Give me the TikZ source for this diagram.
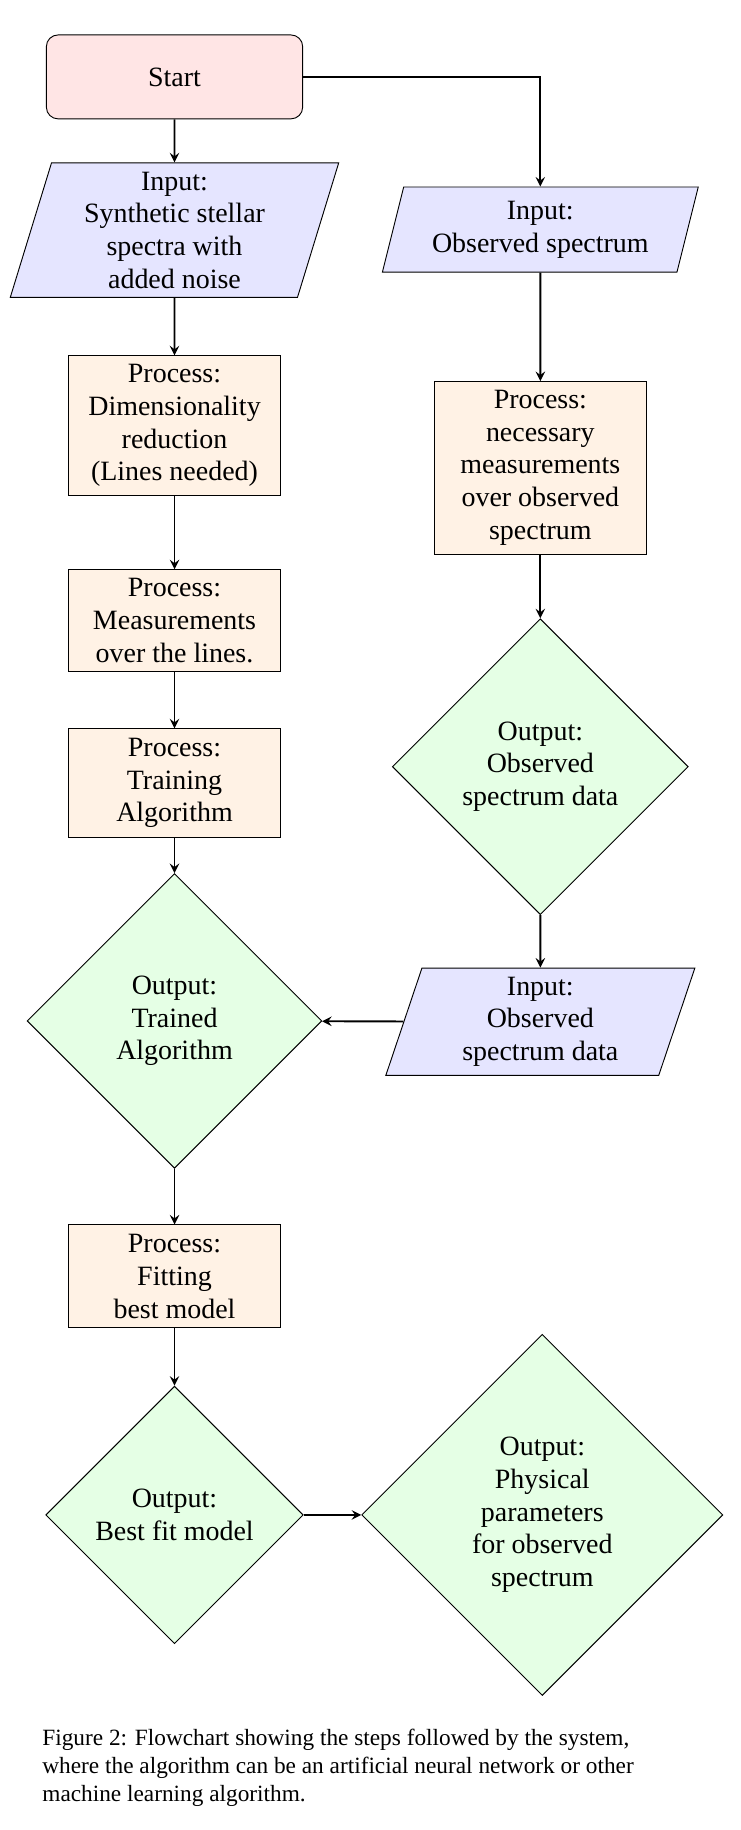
\documentclass[tikz,border=0pt]{standalone}
\usepackage{fontspec}
\setmainfont{Liberation Serif}
\usetikzlibrary{arrows,positioning,shapes.geometric}

\begin{document}
\begin{tikzpicture}[
  startbox/.style={draw, rectangle, rounded corners=5pt,
               minimum width=110pt, minimum height=36pt,
               fill=red!10, font=\fontsize{12}{14}\selectfont},
  iobox/.style={draw, trapezium, trapezium left angle=76,
               trapezium right angle=104, trapezium stretches=true,
               align=center, fill=blue!10, font=\fontsize{12}{14}\selectfont},
  procbox/.style={draw, rectangle, minimum width=91pt,
               align=center, fill=orange!10, font=\fontsize{12}{14}\selectfont},
  outbox/.style={draw, diamond, aspect=1,
               align=center, fill=green!10, font=\fontsize{12}{14}\selectfont},
  flow/.style={->, >=stealth, thick}
]
\useasboundingbox (-74.9pt,33pt) rectangle (242.7pt,-752.4pt);
% left column
\node[startbox] (start) {Start};
\node[iobox, minimum width=141pt, minimum height=57.7pt, below=18.5pt of start] (inSynth)
  {Input:\\Synthetic stellar\\spectra with\\added noise};
\node[procbox, minimum height=60pt, below=24.7pt of inSynth] (pDim)
  {Process:\\Dimensionality\\reduction\\(Lines needed)};
\node[procbox, minimum height=43.6pt, below=31.4pt of pDim] (pMeas)
  {Process:\\Measurements\\over the lines.};
\node[procbox, minimum height=46.4pt, below=24.3pt of pMeas] (pTrain)
  {Process:\\Training\\Algorithm};
\node[outbox, minimum width=126.5pt, minimum height=126.5pt, below=15.3pt of pTrain] (oTrained)
  {Output:\\Trained\\Algorithm};
\node[procbox, minimum height=44.2pt, below=23.9pt of oTrained] (pFit)
  {Process:\\Fitting\\best model};
\node[outbox, minimum width=110.5pt, minimum height=110.5pt, below=24.6pt of pFit] (oBest)
  {Output:\\Best fit model};
% right column
\node[iobox, minimum width=135.6pt, minimum height=36.5pt] at (157pt,-65.5pt) (inObs)
  {Input:\\Observed spectrum};
\node[procbox, minimum height=74pt, below=46.6pt of inObs] (pObs)
  {Process:\\necessary\\measurements\\over observed\\spectrum};
\node[outbox, minimum width=127pt, minimum height=127pt, below=27.4pt of pObs] (oObsData)
  {Output:\\Observed\\spectrum data};
\node[iobox, minimum width=132.8pt, minimum height=46.1pt, below=22.5pt of oObsData] (inObsData)
  {Input:\\Observed\\spectrum data};
\node[outbox, minimum width=155pt, minimum height=155pt, right=24.7pt of oBest] (oPhys)
  {Output:\\Physical\\parameters\\for observed\\spectrum};
% caption
\node[anchor=north west, inner sep=0pt, align=left, font=\fontsize{10}{12}\selectfont]
  (caption) at (-56.9pt,-709pt)
  {Figure 2: Flowchart showing the steps followed by the system,\\
   where the algorithm can be an artificial neural network or other\\
   machine learning algorithm.};
% connectors
\draw[flow] (start) -- (inSynth);
\draw[flow] (inSynth) -- (pDim);
\draw[flow] (pDim) -- (pMeas);
\draw[flow] (pMeas) -- (pTrain);
\draw[flow] (pTrain) -- (oTrained);
\draw[flow] (oTrained) -- (pFit);
\draw[flow] (pFit) -- (oBest);
\draw[flow] (start.east) -| (inObs.north);
\draw[flow] (inObs) -- (pObs);
\draw[flow] (pObs) -- (oObsData);
\draw[flow] (oObsData) -- (inObsData);
\draw[flow] (inObsData) -- (oTrained);
\draw[flow] (oBest) -- (oPhys);
\end{tikzpicture}
\end{document}
